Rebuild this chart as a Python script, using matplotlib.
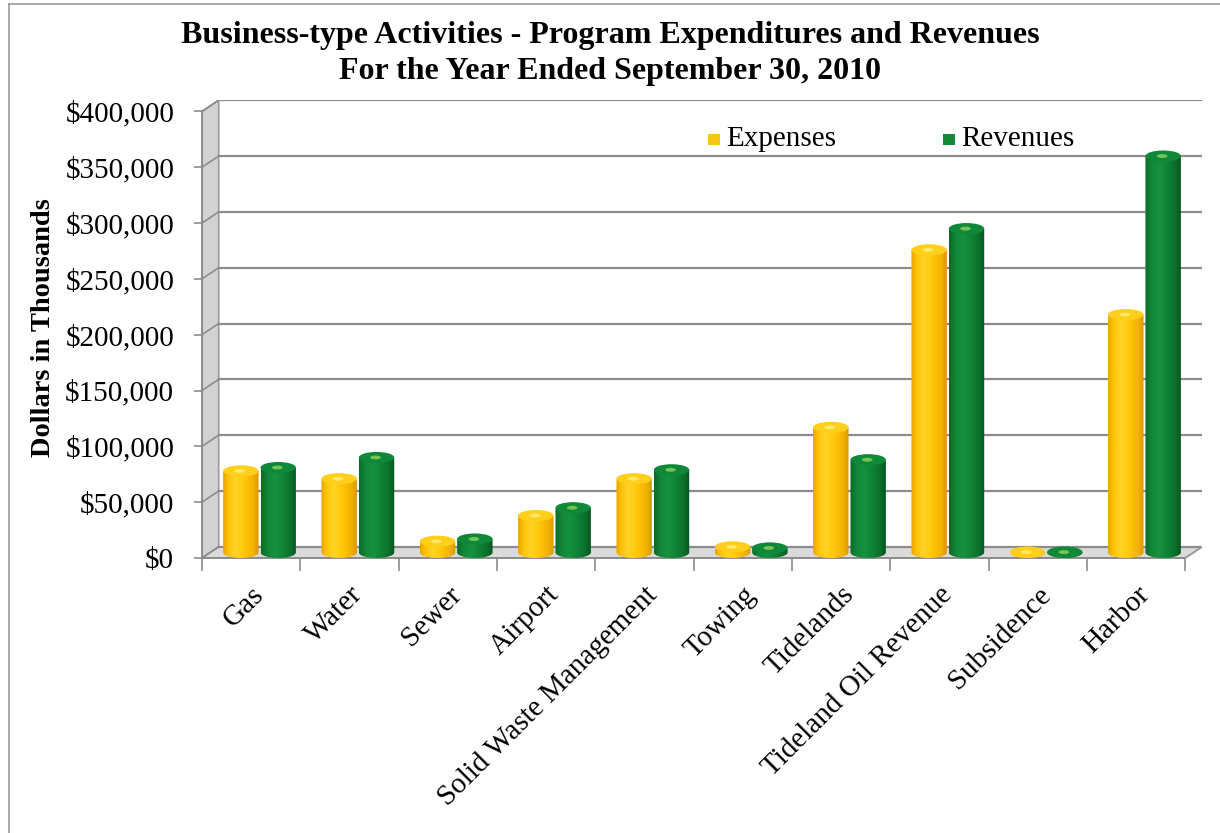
import numpy as np
import matplotlib
matplotlib.use("Agg")
import matplotlib.pyplot as plt
from matplotlib.patches import Polygon, Ellipse, PathPatch, Rectangle
from matplotlib.path import Path
from matplotlib.colors import LinearSegmentedColormap
from matplotlib.ticker import FuncFormatter

categories = ['Gas', 'Water', 'Sewer', 'Airport', 'Solid Waste Management', 'Towing',
              'Tidelands', 'Tideland Oil Revenue', 'Subsidence', 'Harbor']
expenses = [73000, 66000, 10000, 33000, 66000, 5000, 112000, 271000, 300, 213000]
revenues = [76000, 85000, 12000, 40000, 74000, 4000, 83000, 290000, 300, 355000]
y_ticks = [0, 50000, 100000, 150000, 200000, 250000, 300000, 350000, 400000]

plt.rcParams['font.family'] = ['Liberation Serif', 'DejaVu Serif']

# depth of the fake 3d box, in data units
DX = 0.17
DY = 10000
YMAX = 400000
N = len(categories)

fig = plt.figure(figsize=(12.2, 8.33), dpi=100)
ax = fig.add_axes([202/1220, (833-558)/833, 1000/1220, 458/833])
ax.set_xlim(0, N + DX)
ax.set_ylim(0, YMAX + DY * 1.02)
ax.patch.set_visible(False)

# side wall and floor
ax.add_patch(Polygon([(0, 0), (DX, DY), (DX, YMAX + DY), (0, YMAX)], closed=True,
                     fc='#d2d2d2', ec='#9a9a9a', lw=1.2, zorder=1))
ax.add_patch(Polygon([(0, 0), (N, 0), (N + DX, DY), (DX, DY)], closed=True,
                     fc='#dadada', ec='#9a9a9a', lw=1.2, zorder=1))

# back wall gridlines plus their short diagonals on the side wall
for v in y_ticks:
    ax.plot([DX, N + DX], [v + DY, v + DY], color='#8c8c8c', lw=1.6, zorder=2)
    ax.plot([0, DX], [v, v + DY], color='#8c8c8c', lw=1.2, zorder=2)

yellow_side = LinearSegmentedColormap.from_list('ys', [
    (0.0, '#e9a400'), (0.15, '#ffc20a'), (0.35, '#ffd426'), (0.6, '#ffc709'),
    (0.85, '#f2b100'), (1.0, '#d89600')])
green_side = LinearSegmentedColormap.from_list('gs', [
    (0.0, '#0a6a27'), (0.2, '#12883a'), (0.4, '#16923e'), (0.65, '#0f8135'),
    (0.85, '#0a6f2b'), (1.0, '#05551d')])
grad = np.linspace(0, 1, 256).reshape(1, -1)


def cylinder(xc, value, cmap, top_fc, hi_fc, w=0.36, eh=10000, z=5):
    base = DY / 2
    top = base + value
    x0, x1 = xc - w / 2, xc + w / 2
    t = np.linspace(np.pi, 2 * np.pi, 40)
    arc = np.column_stack([xc + w / 2 * np.cos(t), base + eh / 2 * np.sin(t)])
    verts = np.vstack([[x0, top], arc, [x1, top], [x0, top]])
    side = PathPatch(Path(verts, closed=True), fc='none', ec='none', transform=ax.transData)
    ax.add_patch(side)
    im = ax.imshow(grad, extent=[x0, x1, base - eh / 2, top], cmap=cmap, aspect='auto',
                   interpolation='bilinear', zorder=z)
    im.set_clip_path(side)
    ax.add_patch(Ellipse((xc, top), w, eh, fc=top_fc, ec='none', zorder=z + 0.1))
    ax.add_patch(Ellipse((xc - 0.01, top), w * 0.3, eh * 0.35, fc=hi_fc, ec='none',
                         alpha=0.8, zorder=z + 0.2))


for i in range(N):
    c = i + 0.5 + DX / 2
    cylinder(c - 0.19, expenses[i], yellow_side, '#ffcf1c', '#fff07a')
    cylinder(c + 0.19, revenues[i], green_side, '#10883a', '#8fd35a')

ax.set_xlim(0, N + DX)
ax.set_ylim(0, YMAX + DY * 1.02)

# front axes
for s in ['top', 'right']:
    ax.spines[s].set_visible(False)
ax.spines['left'].set_bounds(0, YMAX)
ax.spines['bottom'].set_bounds(0, N)
for s in ['left', 'bottom']:
    ax.spines[s].set_color('#8c8c8c')
    ax.spines[s].set_linewidth(1.4)
ax.plot([N, N + DX], [0, DY], color='#9a9a9a', lw=1.2, zorder=2)

ax.set_yticks(y_ticks)
ax.yaxis.set_major_formatter(FuncFormatter(lambda v, p: '${:,.0f}'.format(v)))
ax.tick_params(axis='y', length=6, width=1.2, color='#8c8c8c', pad=14, labelsize=21)

ax.set_xticks(np.arange(N + 1))
ax.set_xticklabels([])
ax.set_xticks(np.arange(N) + 0.5, minor=True)
ax.set_xticklabels(categories, minor=True, rotation=45, ha='right', rotation_mode='anchor',
                   fontsize=21)
ax.tick_params(axis='x', which='major', length=9, width=1.2, color='#8c8c8c')
ax.tick_params(axis='x', which='minor', length=0, pad=17)

fig.text(44/1220, 1 - 328/833, 'Dollars in Thousands', rotation=90, ha='center', va='center',
         fontsize=20.5, fontweight='bold')
fig.text(0.5, 1 - 35/833, 'Business-type Activities - Program Expenditures and Revenues',
         ha='center', va='center', fontsize=23, fontweight='bold')
fig.text(0.5, 1 - 71/833, 'For the Year Ended September 30, 2010',
         ha='center', va='center', fontsize=23, fontweight='bold')

# legend
fig.patches.append(Rectangle((708/1220, 1 - 145/833), 12/1220, 11/833, fc='#f5c518', ec='none',
                             transform=fig.transFigure))
fig.text(726/1220, 1 - 139/833, 'Expenses', ha='left', va='center', fontsize=21)
fig.patches.append(Rectangle((943/1220, 1 - 145/833), 12/1220, 11/833, fc='#138a38', ec='none',
                             transform=fig.transFigure))
fig.text(961/1220, 1 - 139/833, 'Revenues', ha='left', va='center', fontsize=21)

# outer frame
fig.add_artist(plt.Line2D([9/1220, 9/1220], [0, 1 - 4/833], color='#9a9a9a', lw=1.2,
                          transform=fig.transFigure))
fig.add_artist(plt.Line2D([9/1220, 1], [1 - 4/833, 1 - 4/833], color='#9a9a9a', lw=1.2,
                          transform=fig.transFigure))

fig.savefig('out.png', dpi=100)
